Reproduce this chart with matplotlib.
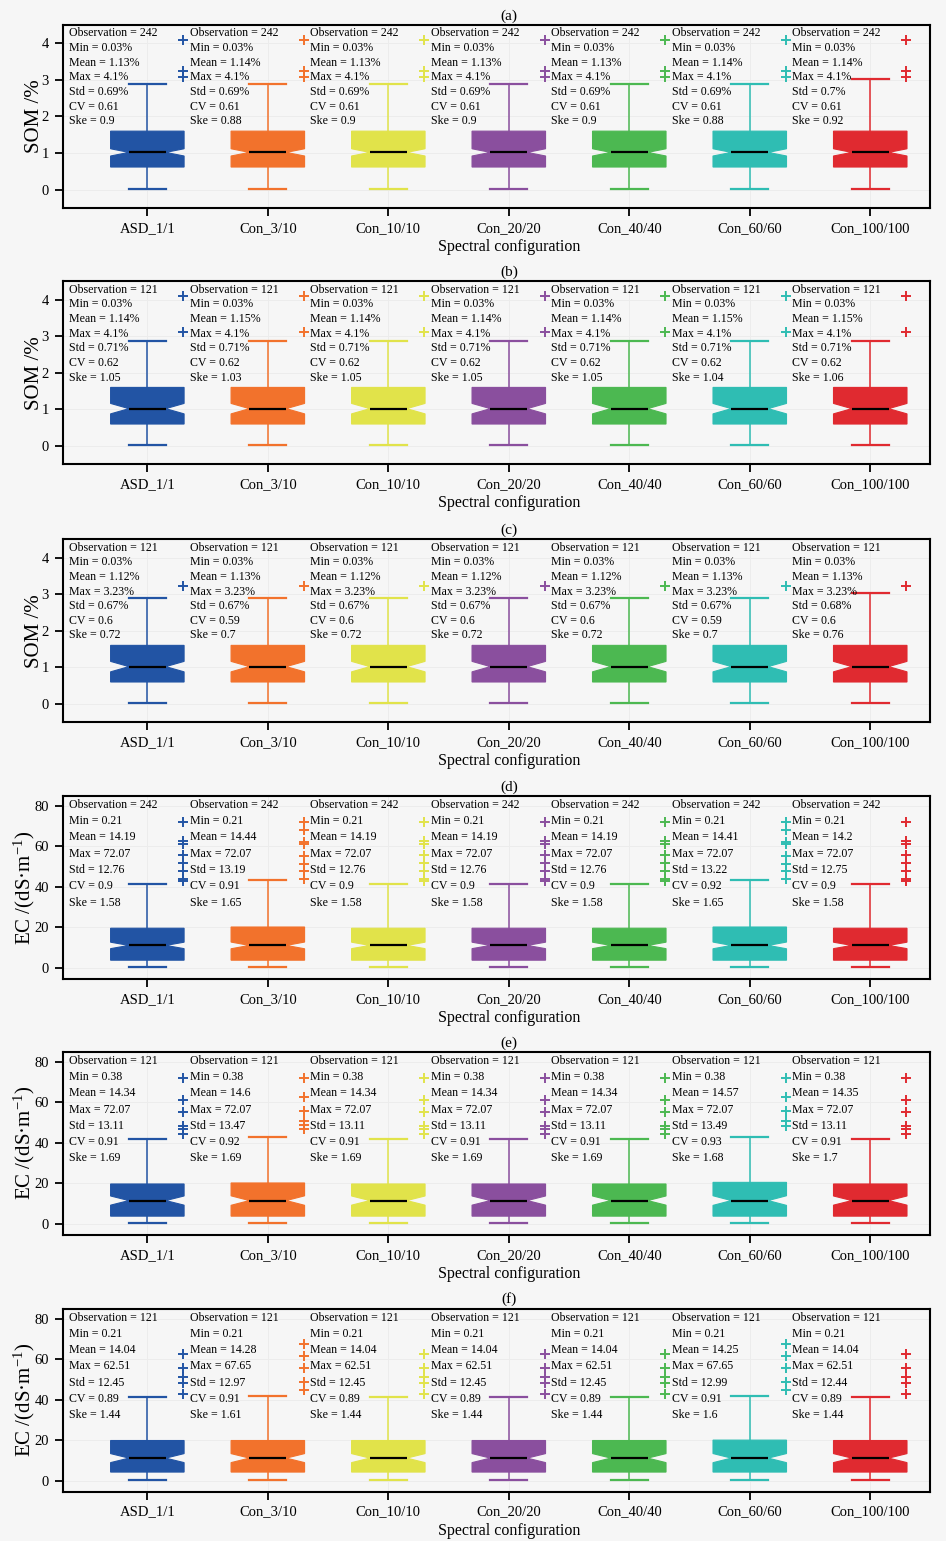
import numpy as np
import matplotlib
matplotlib.use('Agg')
import matplotlib.pyplot as plt

plt.rcParams['font.family'] = ['Liberation Serif', 'DejaVu Serif']
plt.rcParams['mathtext.fontset'] = 'custom'
plt.rcParams['mathtext.rm'] = 'Liberation Serif'
plt.rcParams['mathtext.it'] = 'Liberation Serif:italic'

# ---------------- data ----------------
categories = ['ASD_1/1', 'Con_3/10', 'Con_10/10', 'Con_20/20', 'Con_40/40', 'Con_60/60', 'Con_100/100']
colors = ['#2254a4', '#f2722c', '#e1e34a', '#8a4f9e', '#4cb851', '#2fbdb3', '#e02a30']
panel_labels = ['(a)', '(b)', '(c)', '(d)', '(e)', '(f)']
panel_kind = ['SOM', 'SOM', 'SOM', 'EC', 'EC', 'EC']

# summary statistics written in each panel
a_n = [242, 242, 242, 242, 242, 242, 242]
a_min = [0.03, 0.03, 0.03, 0.03, 0.03, 0.03, 0.03]
a_mean = [1.13, 1.14, 1.13, 1.13, 1.13, 1.14, 1.14]
a_max = [4.1, 4.1, 4.1, 4.1, 4.1, 4.1, 4.1]
a_std = [0.69, 0.69, 0.69, 0.69, 0.69, 0.69, 0.7]
a_cv = [0.61, 0.61, 0.61, 0.61, 0.61, 0.61, 0.61]
a_ske = [0.9, 0.88, 0.9, 0.9, 0.9, 0.88, 0.92]

b_n = [121, 121, 121, 121, 121, 121, 121]
b_min = [0.03, 0.03, 0.03, 0.03, 0.03, 0.03, 0.03]
b_mean = [1.14, 1.15, 1.14, 1.14, 1.14, 1.15, 1.15]
b_max = [4.1, 4.1, 4.1, 4.1, 4.1, 4.1, 4.1]
b_std = [0.71, 0.71, 0.71, 0.71, 0.71, 0.71, 0.71]
b_cv = [0.62, 0.62, 0.62, 0.62, 0.62, 0.62, 0.62]
b_ske = [1.05, 1.03, 1.05, 1.05, 1.05, 1.04, 1.06]

c_n = [121, 121, 121, 121, 121, 121, 121]
c_min = [0.03, 0.03, 0.03, 0.03, 0.03, 0.03, 0.03]
c_mean = [1.12, 1.13, 1.12, 1.12, 1.12, 1.13, 1.13]
c_max = [3.23, 3.23, 3.23, 3.23, 3.23, 3.23, 3.23]
c_std = [0.67, 0.67, 0.67, 0.67, 0.67, 0.67, 0.68]
c_cv = [0.6, 0.59, 0.6, 0.6, 0.6, 0.59, 0.6]
c_ske = [0.72, 0.7, 0.72, 0.72, 0.72, 0.7, 0.76]

d_n = [242, 242, 242, 242, 242, 242, 242]
d_min = [0.21, 0.21, 0.21, 0.21, 0.21, 0.21, 0.21]
d_mean = [14.19, 14.44, 14.19, 14.19, 14.19, 14.41, 14.2]
d_max = [72.07, 72.07, 72.07, 72.07, 72.07, 72.07, 72.07]
d_std = [12.76, 13.19, 12.76, 12.76, 12.76, 13.22, 12.75]
d_cv = [0.9, 0.91, 0.9, 0.9, 0.9, 0.92, 0.9]
d_ske = [1.58, 1.65, 1.58, 1.58, 1.58, 1.65, 1.58]

e_n = [121, 121, 121, 121, 121, 121, 121]
e_min = [0.38, 0.38, 0.38, 0.38, 0.38, 0.38, 0.38]
e_mean = [14.34, 14.6, 14.34, 14.34, 14.34, 14.57, 14.35]
e_max = [72.07, 72.07, 72.07, 72.07, 72.07, 72.07, 72.07]
e_std = [13.11, 13.47, 13.11, 13.11, 13.11, 13.49, 13.11]
e_cv = [0.91, 0.92, 0.91, 0.91, 0.91, 0.93, 0.91]
e_ske = [1.69, 1.69, 1.69, 1.69, 1.69, 1.68, 1.7]

f_n = [121, 121, 121, 121, 121, 121, 121]
f_min = [0.21, 0.21, 0.21, 0.21, 0.21, 0.21, 0.21]
f_mean = [14.04, 14.28, 14.04, 14.04, 14.04, 14.25, 14.04]
f_max = [62.51, 67.65, 62.51, 62.51, 62.51, 67.65, 62.51]
f_std = [12.45, 12.97, 12.45, 12.45, 12.45, 12.99, 12.44]
f_cv = [0.89, 0.91, 0.89, 0.89, 0.89, 0.91, 0.89]
f_ske = [1.44, 1.61, 1.44, 1.44, 1.44, 1.6, 1.44]

# box-plot statistics
a_q1 = [0.62, 0.62, 0.62, 0.62, 0.62, 0.62, 0.62]
a_med = [1.02, 1.02, 1.02, 1.02, 1.02, 1.02, 1.02]
a_q3 = [1.6, 1.6, 1.6, 1.6, 1.6, 1.6, 1.6]
a_lo = [0.03, 0.03, 0.03, 0.03, 0.03, 0.03, 0.03]
a_hi = [2.89, 2.89, 2.89, 2.89, 2.89, 2.89, 3.02]
a_fliers = [[4.1, 3.23, 3.08]] * 7

b_q1 = [0.6, 0.6, 0.6, 0.6, 0.6, 0.6, 0.6]
b_med = [1.02, 1.02, 1.02, 1.02, 1.02, 1.02, 1.02]
b_q3 = [1.6, 1.6, 1.6, 1.6, 1.6, 1.6, 1.6]
b_lo = [0.03, 0.03, 0.03, 0.03, 0.03, 0.03, 0.03]
b_hi = [2.88, 2.88, 2.88, 2.88, 2.88, 2.88, 2.88]
b_fliers = [[4.1, 3.1]] * 7

c_q1 = [0.6, 0.6, 0.6, 0.6, 0.6, 0.6, 0.6]
c_med = [1.02, 1.02, 1.02, 1.02, 1.02, 1.02, 1.02]
c_q3 = [1.6, 1.6, 1.6, 1.6, 1.6, 1.6, 1.6]
c_lo = [0.03, 0.03, 0.03, 0.03, 0.03, 0.03, 0.03]
c_hi = [2.9, 2.9, 2.9, 2.9, 2.9, 2.9, 3.04]
c_fliers = [[3.23]] * 7

d_q1 = [3.8, 3.8, 3.8, 3.8, 3.8, 3.8, 3.8]
d_med = [11.1, 11.1, 11.1, 11.1, 11.1, 11.1, 11.1]
d_q3 = [19.6, 20.2, 19.6, 19.6, 19.6, 20.2, 19.6]
d_lo = [0.21, 0.21, 0.21, 0.21, 0.21, 0.21, 0.21]
d_hi = [41.6, 43.2, 41.6, 41.6, 41.6, 43.2, 41.6]
d_fliers = [[72.07, 62.5, 61.2, 55.8, 52.0, 48.1, 44.0, 42.7],
            [72.07, 68.2, 62.4, 61.3, 55.5, 51.4, 48.1, 44.0],
            [72.07, 62.5, 61.2, 55.8, 52.0, 48.1, 44.0, 42.7],
            [72.07, 62.5, 61.2, 55.8, 52.0, 48.1, 44.0, 42.7],
            [72.07, 62.5, 61.2, 55.8, 52.0, 48.1, 44.0, 42.7],
            [72.07, 68.2, 62.4, 61.3, 55.5, 51.4, 48.1, 44.0],
            [72.07, 62.5, 61.2, 55.8, 52.0, 48.1, 44.0, 42.7]]

e_q1 = [3.8, 3.8, 3.8, 3.8, 3.8, 3.8, 3.8]
e_med = [11.5, 11.5, 11.5, 11.5, 11.5, 11.5, 11.5]
e_q3 = [19.7, 20.2, 19.7, 19.7, 19.7, 20.5, 19.7]
e_lo = [0.38, 0.38, 0.38, 0.38, 0.38, 0.38, 0.38]
e_hi = [41.8, 43.1, 41.8, 41.8, 41.8, 43.1, 41.8]
e_fliers = [[72.07, 61.0, 55.2, 48.5, 47.0, 44.3],
            [72.07, 62.6, 55.6, 51.0, 49.0, 47.0],
            [72.07, 61.0, 55.2, 48.5, 47.0, 44.3],
            [72.07, 61.0, 55.2, 48.5, 47.0, 44.3],
            [72.07, 61.0, 55.2, 48.5, 47.0, 44.3],
            [72.07, 62.6, 55.6, 50.8, 48.5],
            [72.07, 61.0, 55.2, 48.5, 47.0, 44.3]]

f_q1 = [4.2, 4.2, 4.2, 4.2, 4.2, 4.2, 4.2]
f_med = [11.1, 11.1, 11.1, 11.1, 11.1, 11.1, 11.1]
f_q3 = [19.8, 19.8, 19.8, 19.8, 19.8, 20.0, 19.8]
f_lo = [0.21, 0.21, 0.21, 0.21, 0.21, 0.21, 0.21]
f_hi = [41.3, 42.0, 41.3, 41.3, 41.3, 42.0, 41.3]
f_fliers = [[62.51, 55.5, 51.3, 48.0, 43.0],
            [67.65, 61.5, 55.5, 48.5, 45.0],
            [62.51, 55.5, 51.3, 48.0, 43.0],
            [62.51, 55.5, 51.3, 48.0, 43.0],
            [62.51, 55.5, 51.3, 48.0, 43.0],
            [67.65, 61.5, 55.5, 48.5, 45.0],
            [62.51, 55.5, 51.3, 48.0, 43.0]]

panels = [
    dict(n=a_n, mn=a_min, mean=a_mean, mx=a_max, std=a_std, cv=a_cv, ske=a_ske,
         q1=a_q1, med=a_med, q3=a_q3, lo=a_lo, hi=a_hi, fl=a_fliers),
    dict(n=b_n, mn=b_min, mean=b_mean, mx=b_max, std=b_std, cv=b_cv, ske=b_ske,
         q1=b_q1, med=b_med, q3=b_q3, lo=b_lo, hi=b_hi, fl=b_fliers),
    dict(n=c_n, mn=c_min, mean=c_mean, mx=c_max, std=c_std, cv=c_cv, ske=c_ske,
         q1=c_q1, med=c_med, q3=c_q3, lo=c_lo, hi=c_hi, fl=c_fliers),
    dict(n=d_n, mn=d_min, mean=d_mean, mx=d_max, std=d_std, cv=d_cv, ske=d_ske,
         q1=d_q1, med=d_med, q3=d_q3, lo=d_lo, hi=d_hi, fl=d_fliers),
    dict(n=e_n, mn=e_min, mean=e_mean, mx=e_max, std=e_std, cv=e_cv, ske=e_ske,
         q1=e_q1, med=e_med, q3=e_q3, lo=e_lo, hi=e_hi, fl=e_fliers),
    dict(n=f_n, mn=f_min, mean=f_mean, mx=f_max, std=f_std, cv=f_cv, ske=f_ske,
         q1=f_q1, med=f_med, q3=f_q3, lo=f_lo, hi=f_hi, fl=f_fliers),
]

# ---------------- drawing ----------------
BG = '#f6f6f6'
fig = plt.figure(figsize=(9.46, 15.41), dpi=100, facecolor=BG)

ax_left, ax_w, ax_h = 0.0666, 0.917, 0.1188
bottoms = [0.865, 0.6987, 0.5313, 0.3647, 0.1986, 0.032]
positions = np.arange(1, len(categories) + 1)

for p, (pd, lab, kind, bot) in enumerate(zip(panels, panel_labels, panel_kind, bottoms)):
    ax = fig.add_axes([ax_left, bot, ax_w, ax_h], facecolor=BG)
    stats = []
    for i in range(len(categories)):
        iqr = pd['q3'][i] - pd['q1'][i]
        half = 1.57 * iqr / np.sqrt(pd['n'][i])
        stats.append(dict(med=pd['med'][i], q1=pd['q1'][i], q3=pd['q3'][i],
                          whislo=pd['lo'][i], whishi=pd['hi'][i],
                          cilo=pd['med'][i] - half, cihi=pd['med'][i] + half,
                          fliers=[], label=categories[i]))
    bp = ax.bxp(stats, positions=positions, widths=0.61, shownotches=True,
                showfliers=False, patch_artist=True,
                medianprops=dict(color='black', lw=1.6),
                whiskerprops=dict(lw=1.1), capprops=dict(lw=1.6))
    for i, c in enumerate(colors):
        bp['boxes'][i].set_facecolor(c)
        bp['boxes'][i].set_edgecolor(c)
        bp['boxes'][i].set_linewidth(0.8)
        for w in bp['whiskers'][2 * i:2 * i + 2]:
            w.set_color(c)
        for cp in bp['caps'][2 * i:2 * i + 2]:
            cp.set_color(c)
        fl = pd['fl'][i]
        ax.plot(np.full(len(fl), positions[i] + 0.3), fl, ls='none', marker='+',
                ms=7, mew=1.4, color=c, zorder=3)

    unit = '%' if kind == 'SOM' else ''
    if kind == 'SOM':
        ax.set_ylim(-0.5, 4.5)
        ax.set_yticks([0, 1, 2, 3, 4])
        ax.set_ylabel('SOM /%', fontsize=15, labelpad=-1.5)
        y0, dy = 4.27, 0.4
    else:
        ax.set_ylim(-5.5, 85)
        ax.set_yticks([0, 20, 40, 60, 80])
        ax.set_ylabel('EC /(dS·m$^{-1}$)', fontsize=15, labelpad=-1.5)
        y0, dy = 80.6, 8.05

    for i in range(len(categories)):
        lines = ['Observation = %d' % pd['n'][i],
                 'Min = %g%s' % (pd['mn'][i], unit),
                 'Mean = %g%s' % (pd['mean'][i], unit),
                 'Max = %g%s' % (pd['mx'][i], unit),
                 'Std = %g%s' % (pd['std'][i], unit),
                 'CV = %g' % pd['cv'][i],
                 'Ske = %g' % pd['ske'][i]]
        for k, t in enumerate(lines):
            ax.text(positions[i] - 0.647, y0 - k * dy, t, fontsize=8.6,
                    ha='left', va='center', zorder=4)

    ax.set_xlim(0.3, 7.5)
    ax.set_xticks(positions)
    ax.set_xticklabels(categories)
    ax.tick_params(axis='both', direction='out', length=6, width=1.3,
                   labelsize=10.5, pad=4)
    ax.grid(True, color='#ececec', lw=0.7, zorder=0)
    ax.set_axisbelow(True)
    for s in ax.spines.values():
        s.set_linewidth(1.5)
    ax.set_title(lab, x=0.514, pad=4, fontsize=11)
    ax.set_xlabel('Spectral configuration', fontsize=11.5, labelpad=2)
    ax.xaxis.set_label_coords(0.514, -0.17)

fig.savefig('out.png', dpi=100, facecolor=BG)
